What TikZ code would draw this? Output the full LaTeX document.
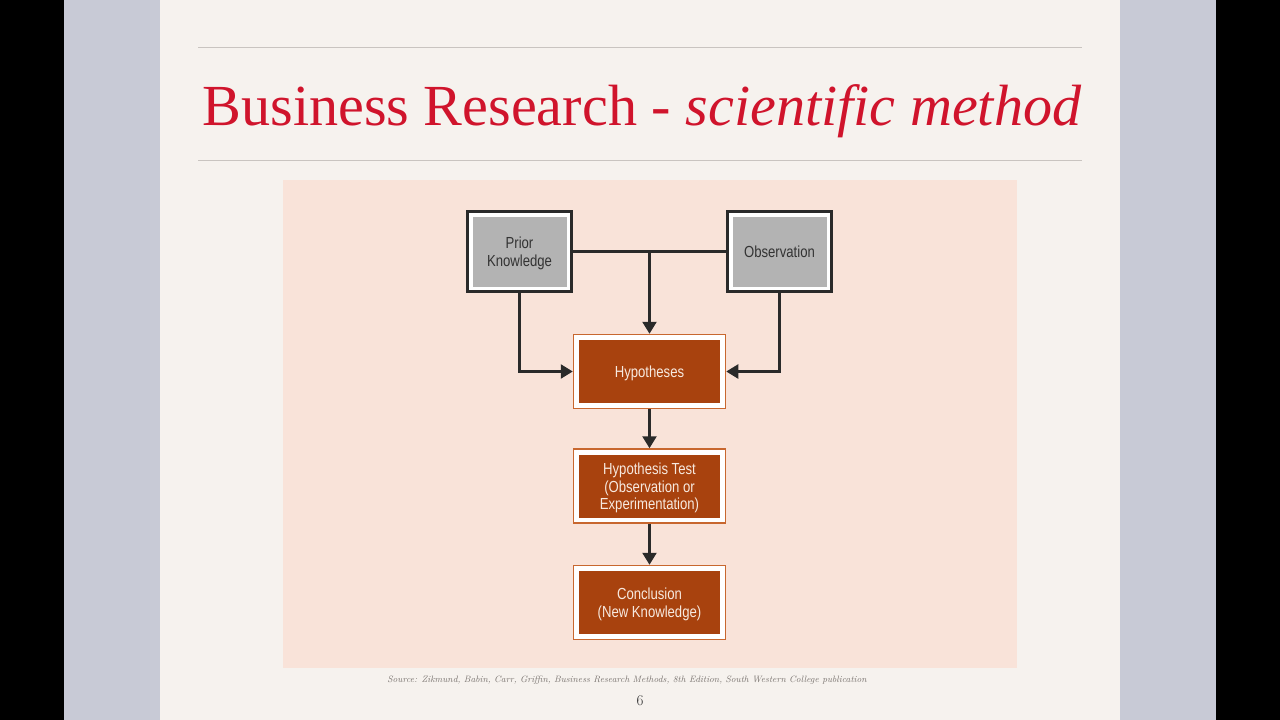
\documentclass[tikz,border=0pt]{standalone}
\usepackage{fontspec}
\usetikzlibrary{arrows.meta,calc}
\newfontfamily\narrowsans[FakeStretch=0.82]{Liberation Sans}
\newfontfamily\titleserif{Liberation Serif}
\newcommand\boxlines[1]{\raisebox{-2.5pt}[\height][\depth]{\begin{tabular}{@{}c@{}}#1\end{tabular}}}
\definecolor{blackbar}{HTML}{000000}
\definecolor{sideband}{HTML}{C8CAD6}
\definecolor{slidebg}{HTML}{F6F2EE}
\definecolor{panelbg}{HTML}{F9E3D9}
\definecolor{titlered}{HTML}{D0142C}
\definecolor{rule}{HTML}{C9C4C0}
\definecolor{boxgray}{HTML}{B3B3B3}
\definecolor{boxorange}{HTML}{A8420E}
\definecolor{orangeedge}{HTML}{C8672F}
\definecolor{lineink}{HTML}{2A2A2A}
\definecolor{graytext}{HTML}{333333}
\definecolor{lighttext}{HTML}{F7E9DF}
\definecolor{srctext}{HTML}{7A7470}
\tikzset{
  graybox/.style={draw=lineink, line width=2.6pt, fill=white,
    minimum width=104pt, minimum height=80pt, inner sep=0pt,
    font=\narrowsans\fontsize{16}{18}\selectfont, text=graytext,
    path picture={\fill[boxgray] ([xshift=5pt,yshift=-5pt]path picture bounding box.north west) rectangle ([xshift=-5pt,yshift=5pt]path picture bounding box.south east);}},
  orangebox/.style={draw=orangeedge, line width=1.5pt, fill=white,
    minimum width=152pt, minimum height=74pt, inner sep=0pt,
    font=\narrowsans\fontsize{16}{17.5}\selectfont, text=lighttext,
    path picture={\fill[boxorange] ([xshift=5.5pt,yshift=-5.5pt]path picture bounding box.north west) rectangle ([xshift=-5.5pt,yshift=5.5pt]path picture bounding box.south east);}},
  conn/.style={draw=lineink, line width=2.4pt},
  arr/.style={conn, -{Triangle[length=12pt,width=14pt]}}
}
\begin{document}
\begin{tikzpicture}[x=1pt,y=-1pt]
\useasboundingbox (0,0) rectangle (1280,720);
% backgrounds
\fill[blackbar] (0,0) rectangle (1280,720);
\fill[sideband] (64,0) rectangle (1216,720);
\fill[slidebg] (160,0) rectangle (1120,720);
% rules
\draw[rule, line width=1pt] (198,47) -- (1082,47);
\draw[rule, line width=1pt] (198,160) -- (1082,160);
% title
\node[anchor=base, text=titlered, inner sep=0pt, font=\titleserif\fontsize{68}{70}\selectfont] (title) at (642,125) {\resizebox{879pt}{!}{Business Research - \textit{scientific method}}};
% panel
\fill[panelbg] (283,180) rectangle (1017,668);
% boxes
\node[graybox] (pk) at (519.5,251.5) {\boxlines{Prior\\Knowledge}};
\node[graybox] (obs) at (779.5,251.5) {\boxlines{Observation}};
\node[orangebox] (hyp) at (649.5,371.5) {\boxlines{Hypotheses}};
\node[orangebox] (test) at (649.5,486) {\boxlines{Hypothesis Test\\(Observation or\\Experimentation)}};
\node[orangebox] (conc) at (649.5,602.5) {\boxlines{Conclusion\\(New Knowledge)}};
% connectors
\draw[conn] (pk.east) -- (obs.west);
\coordinate (junc) at (hyp.north |- pk.east);
\draw[arr] (junc) -- (hyp.north);
\draw[arr] (pk.south) |- (hyp.west);
\draw[arr] (obs.south) |- (hyp.east);
\draw[arr] (hyp.south) -- (test.north);
\draw[arr] (test.south) -- (conc.north);
% source
\node[anchor=base, text=srctext, inner sep=0pt, font=\fontsize{9.2}{10}\selectfont\itshape] (src) at (627,682) {Source: Zikmund, Babin, Carr, Griffin, Business Research Methods, 8th Edition, South Western College publication};
\node[anchor=base, text=graytext, inner sep=0pt, font=\fontsize{15}{16}\selectfont] (pg) at (640,705) {6};
\end{tikzpicture}
\end{document}
